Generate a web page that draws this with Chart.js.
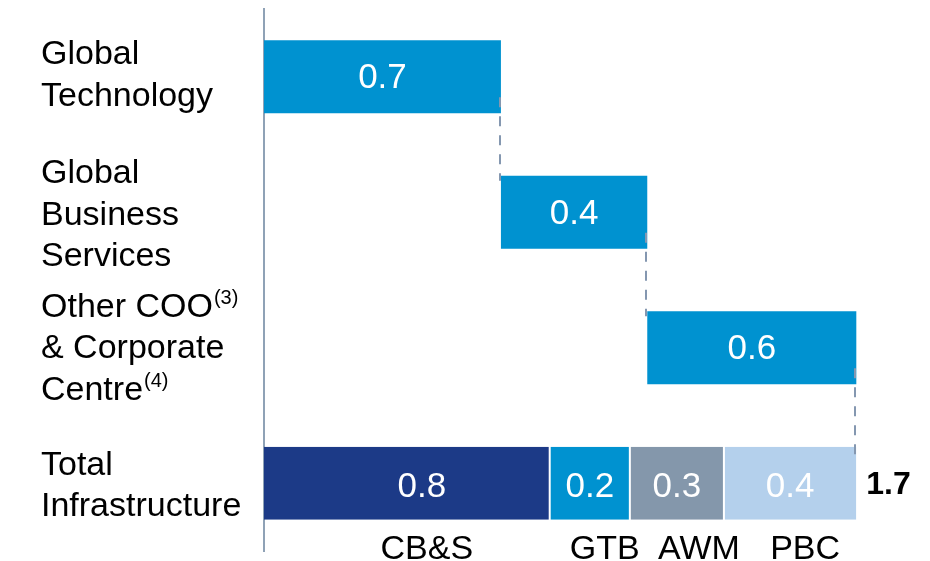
<!DOCTYPE html>
<html>
<head>
<meta charset="utf-8">
<script src="https://cdn.jsdelivr.net/npm/chart.js@4.4.1/dist/chart.umd.min.js"></script>
<style>
  html, body { margin: 0; padding: 0; background: #ffffff; }
  #wrap { width: 930px; height: 561px; position: relative; }
</style>
</head>
<body>
<div id="wrap"><canvas id="c"></canvas></div>
<script>
// ---- data ----
const categories = ['Global Technology', 'Global Business Services', 'Other COO & Corporate Centre', 'Total Infrastructure'];
const categoryLines = [
  ['Global', 'Technology'],
  ['Global', 'Business', 'Services'],
  ['Other COO^(3)', '& Corporate', 'Centre^(4)'],
  ['Total', 'Infrastructure']
];
const stepValues = [0.68, 0.42, 0.60];
const totalNames = ['CB&S', 'GTB', 'AWM', 'PBC'];
const totalValues = [0.82, 0.23, 0.27, 0.38];

// ---- styles ----
const FONT = '"Liberation Sans", Arial, Helvetica, sans-serif';
const stepColor = '#0092d0';
const totalColors = ['#1c3a87', '#0092d0', '#8497ab', '#b4d0ec'];
const connectorColor = '#8497b0';

// build floating bars
const stepData = [];
let cum = 0;
const stepEnds = [];
stepValues.forEach(v => { stepData.push([cum, cum + v]); cum += v; stepEnds.push(cum); });
stepData.push(null);

const datasets = [{
  label: 'Steps',
  data: stepData,
  backgroundColor: stepColor,
  grouped: false,
  borderWidth: 0
}];
let tcum = 0;
totalNames.forEach((name, i) => {
  const d = [null, null, null, [tcum, tcum + totalValues[i]]];
  tcum += totalValues[i];
  datasets.push({
    label: name,
    data: d,
    backgroundColor: totalColors[i],
    borderColor: '#ffffff',
    borderWidth: { left: i === 0 ? 0 : 1, right: i === totalNames.length - 1 ? 0 : 1, top: 0, bottom: 0 },
    borderSkipped: false,
    grouped: false
  });
});
const totalSum = totalValues.reduce((a, b) => a + b, 0);

const overlay = {
  id: 'overlay',
  afterDatasetsDraw(chart) {
    const ctx = chart.ctx;
    const xs = chart.scales.x, ys = chart.scales.y;
    const meta0 = chart.getDatasetMeta(0);

    // connectors
    ctx.save();
    ctx.strokeStyle = connectorColor;
    ctx.lineWidth = 2;
    ctx.setLineDash([10, 9]);
    for (let i = 0; i < stepEnds.length; i++) {
      const bar = meta0.data[i];
      const h = bar.height;
      const x = Math.round(xs.getPixelForValue(stepEnds[i])) - 1;
      const y0 = bar.y + h / 2 - 16;
      const nextY = ys.getPixelForValue(i + 1) - h / 2 + (i === stepEnds.length - 1 ? 13 : 5);
      ctx.beginPath();
      ctx.moveTo(x, y0);
      ctx.lineTo(x, nextY);
      ctx.stroke();
    }
    ctx.restore();

    // value labels
    ctx.save();
    ctx.fillStyle = '#ffffff';
    ctx.font = '35px ' + FONT;
    ctx.textAlign = 'center';
    ctx.textBaseline = 'middle';
    stepValues.forEach((v, i) => {
      const b = meta0.data[i];
      ctx.fillText(v.toFixed(1), (b.x + b.base) / 2, b.y + 2);
    });
    totalValues.forEach((v, i) => {
      const b = chart.getDatasetMeta(i + 1).data[3];
      const off = i === 0 ? 15 : 0;
      ctx.fillText(v.toFixed(1), (b.x + b.base) / 2 + off, b.y + 4);
    });
    ctx.restore();

    // segment names below total bar
    ctx.save();
    ctx.fillStyle = '#000000';
    ctx.font = '34px ' + FONT;
    ctx.textAlign = 'center';
    ctx.textBaseline = 'middle';
    const nameOff = [20, 15, 22, 15];
    totalValues.forEach((v, i) => {
      const b = chart.getDatasetMeta(i + 1).data[3];
      ctx.fillText(totalNames[i], (b.x + b.base) / 2 + nameOff[i], b.y + b.height / 2 + 30);
    });
    // total
    ctx.font = 'bold 32px ' + FONT;
    ctx.textAlign = 'left';
    const lastBar = chart.getDatasetMeta(totalNames.length).data[3];
    ctx.fillText(totalSum.toFixed(1), xs.getPixelForValue(totalSum) + 10, lastBar.y + 2);
    ctx.restore();

    // category labels (left)
    ctx.save();
    ctx.fillStyle = '#000000';
    ctx.textBaseline = 'middle';
    ctx.textAlign = 'left';
    const lh = 41.5;
    const yOff = [-1, 3, 1, 3];
    categoryLines.forEach((lines, i) => {
      const cy = ys.getPixelForValue(i) + yOff[i];
      const startY = cy - (lines.length - 1) * lh / 2;
      lines.forEach((line, j) => {
        const y = startY + j * lh;
        const parts = line.split('^');
        ctx.font = '34px ' + FONT;
        ctx.fillText(parts[0], 41, y);
        if (parts[1]) {
          const w = ctx.measureText(parts[0]).width;
          ctx.font = '20px ' + FONT;
          ctx.fillText(parts[1], 41 + w + 1, y - 9);
        }
      });
    });
    ctx.restore();
  }
};

new Chart(document.getElementById('c'), {
  type: 'bar',
  data: { labels: categories, datasets },
  options: {
    indexAxis: 'y',
    responsive: true,
    maintainAspectRatio: false,
    animation: false,
    layout: { padding: { left: 264, right: 4, top: 9, bottom: 10 } },
    datasets: { bar: { categoryPercentage: 1, barPercentage: 0.54 } },
    plugins: { legend: { display: false }, tooltip: { enabled: false } },
    scales: {
      x: { display: false, min: 0, max: 1.9 },
      y: {
        ticks: { display: false },
        grid: { display: false },
        border: { display: true, color: '#8fa2b6', width: 2 },
        afterFit(s) { s.width = 0; }
      }
    }
  },
  plugins: [overlay]
});
</script>
</body>
</html>
